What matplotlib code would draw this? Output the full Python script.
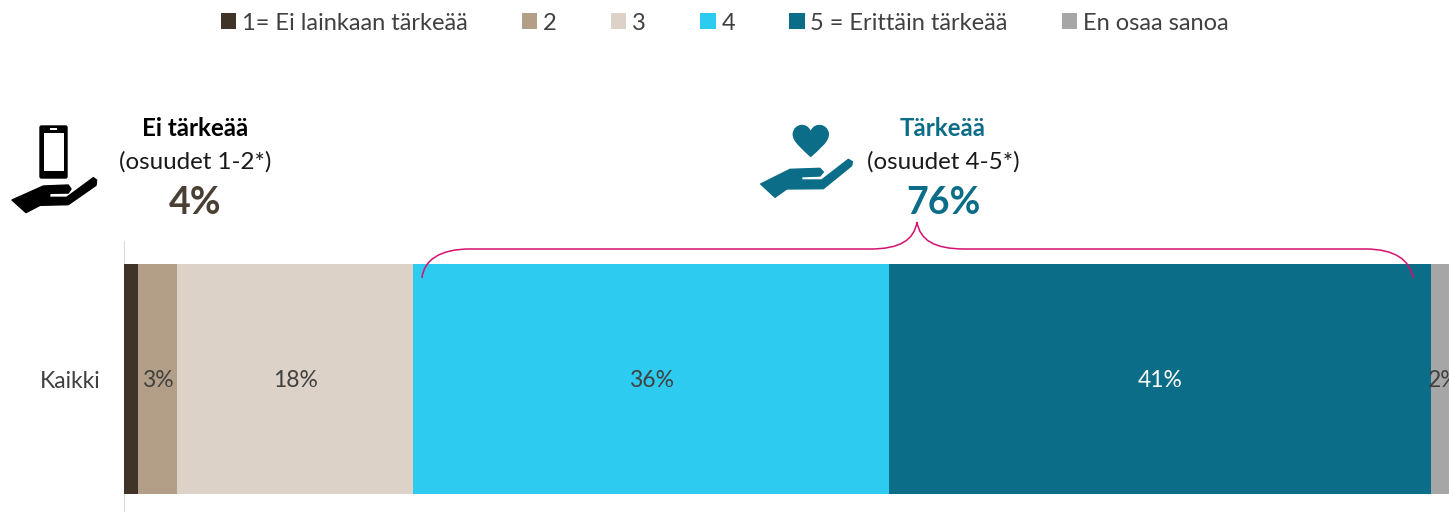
import matplotlib
matplotlib.use('Agg')
import matplotlib.pyplot as plt
from matplotlib.patches import PathPatch, Polygon, FancyBboxPatch, Rectangle
from matplotlib.path import Path

W, H = 1449, 512

category = ['Kaikki']
series_names = ['1= Ei lainkaan tärkeää', '2', '3', '4', '5 = Erittäin tärkeää', 'En osaa sanoa']
values = [1.06, 2.95, 17.9, 36.05, 41.05, 2.0]
value_labels = ['', '3%', '18%', '36%', '41%', '2%']
colors = ['#3F3427', '#B39F87', '#DCD2C7', '#2ECBF1', '#0B6D87', '#A6A6A6']
label_colors = ['#404040', '#404040', '#404040', '#404040', '#FFFFFF', '#404040']

plt.rcParams['font.family'] = ['Lato', 'DejaVu Sans']

fig = plt.figure(figsize=(W / 100, H / 100), dpi=100)

# main bar, axes placed in pixels
ax = fig.add_axes([124 / W, (H - 517) / H, (W - 124) / W, 276 / H])
left = 0
for name, v, c, lab, lc in zip(series_names, values, colors, value_labels, label_colors):
    ax.barh(category, v, left=left, height=0.833, color=c, label=name)
    if lab:
        ax.text(left + v / 2, -0.006, lab, ha='center', va='center', fontsize=16.5, color=lc)
    left += v
ax.set_xlim(0, (W - 124) / 13.2)
ax.set_ylim(-0.5, 0.5)
ax.xaxis.set_visible(False)
ax.tick_params(axis='y', length=0, pad=17, labelsize=16.5, labelcolor='#404040')
for s in ['top', 'right', 'bottom']:
    ax.spines[s].set_visible(False)
ax.spines['left'].set_color('#D9D9D9')
ax.spines['left'].set_zorder(0.5)

fig.legend(loc='center', bbox_to_anchor=(725 / W, 1 - 23 / H), ncol=6, frameon=False,
           fontsize=17, labelcolor='#404040', handlelength=0.64, handleheight=0.64,
           handletextpad=0.25, columnspacing=2.3, borderpad=0, borderaxespad=0)

# overlay in pixel coordinates for callouts and icons
ov = fig.add_axes([0, 0, 1, 1], facecolor='none')
ov.set_xlim(0, W)
ov.set_ylim(H, 0)
ov.axis('off')

ov.text(195, 129, 'Ei tärkeää', ha='center', va='center', fontsize=17.4, fontweight='bold', color='black')
ov.text(195, 162, '(osuudet 1-2*)', ha='center', va='center', fontsize=17.4, color='#1a1a1a')
ov.text(195, 203, '4%', ha='center', va='center', fontsize=27, fontweight='bold', color='#4A3F33')
ov.text(943, 129, 'Tärkeää', ha='center', va='center', fontsize=17.4, fontweight='bold', color='#0B6D87')
ov.text(943, 162, '(osuudet 4-5*)', ha='center', va='center', fontsize=17.4, color='#1a1a1a')
ov.text(943, 203, '76%', ha='center', va='center', fontsize=27, fontweight='bold', color='#0B6D87')

# brace
M, L, C = Path.MOVETO, Path.LINETO, Path.CURVE4
brace = [(422, 278), (424, 260), (440, 249), (470, 249), (870, 249), (900, 249), (914, 240), (917, 222),
         (920, 240), (934, 249), (965, 249), (1365, 249), (1395, 249), (1410, 260), (1413, 278)]
brace_codes = [M, C, C, C, L, C, C, C, C, C, C, L, C, C, C]
ov.add_patch(PathPatch(Path(brace, brace_codes), fill=False, edgecolor='#D5106F', lw=1.1))


def zoomed(points, x0, y0):
    return [(x0 + x / 3, y0 + y / 3) for x, y in points]


# phone in hand
ov.add_patch(FancyBboxPatch((40, 126), 27, 52, boxstyle='round,pad=0,rounding_size=1.5', fc='black', ec='black', lw=1))
ov.add_patch(Rectangle((43.5, 133), 20.5, 38, fc='white', ec='none'))
ov.add_patch(Rectangle((50, 128.3), 7, 1.6, fc='white', ec='none'))
hand1 = [(36, 300), (130, 258), (205, 255), (213, 267), (205, 279), (150, 280), (148, 292), (200, 292),
         (280, 233), (290, 240), (288, 256), (205, 314), (120, 316), (78, 338)]
ov.add_patch(Polygon(zoomed(hand1, 0, 100), closed=True, fc='black', ec='black', lw=1, joinstyle='round'))

# heart in hand
hand2 = [(62, 252), (150, 208), (240, 205), (250, 216), (240, 228), (185, 230), (185, 240), (245, 240),
         (325, 178), (337, 185), (335, 197), (250, 266), (140, 267), (105, 292)]
ov.add_patch(Polygon(zoomed(hand2, 740, 100), closed=True, fc='#0B6D87', ec='#0B6D87', lw=1, joinstyle='round'))
heart = [(212, 172), (190, 150), (155, 125), (158, 100), (162, 70), (200, 65), (212, 92),
         (224, 65), (262, 70), (267, 100), (270, 125), (235, 150), (212, 172)]
heart_codes = [M] + [C] * 12
ov.add_patch(PathPatch(Path(zoomed(heart, 740, 100), heart_codes), fc='#0B6D87', ec='none'))

fig.savefig('out.png', dpi=100)
